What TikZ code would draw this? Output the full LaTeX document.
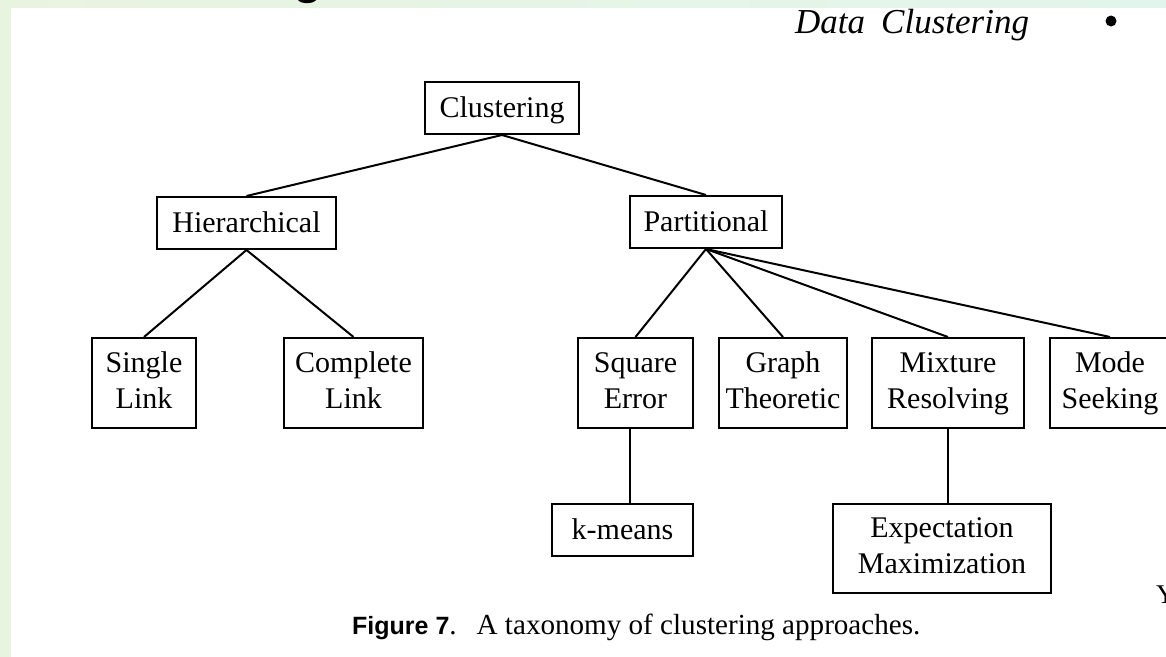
\documentclass[tikz,border=0pt]{standalone}
\usepackage{fontspec}
\setmainfont{Liberation Serif}
\newfontfamily\capsans{Liberation Sans}
\usetikzlibrary{positioning,calc}
\definecolor{slidegreen}{RGB}{233,244,224}
\definecolor{slidemint}{RGB}{226,245,236}
\tikzset{>=latex,
  basebox/.style={draw, line width=2pt, align=center, inner sep=0pt,
    font=\fontsize{30}{36}\selectfont},
  box/.style={basebox, minimum height=52pt, text height=24pt, text depth=5pt},
  tall/.style={basebox, minimum height=90pt},
  link/.style={line width=2pt}}

\begin{document}
\begin{tikzpicture}[x=1pt,y=-1pt]
    \useasboundingbox (0,0) rectangle (1166,656);
    \clip (0,0) rectangle (1166,656);
    \shade [left color=slidegreen,right color=slidemint] (0,0) rectangle (1166,656);
    \fill [white] (11,8) rectangle (1180,670);
    \node [font=\capsans\bfseries\fontsize{48}{48}\selectfont,anchor=base] (title) at (308,-7) {g};
    \node [font=\itshape\fontsize{35}{36}\selectfont,anchor=base west,inner sep=0pt] (head) at (795,33) {Data\hspace{16pt}Clustering};
    \node [circle,fill,inner sep=0pt,minimum size=11pt] (dot) at (1111,21) {};
    % tree
    \node [box,minimum width=154pt] (clust) at (502,108) {Clustering};
    \node [box,minimum width=179pt] (hier) at (246.5,223) {Hierarchical};
    \node [box,minimum width=152pt] (part) at (706,222) {Partitional};
    \node [tall,minimum width=104pt] (single) at (144,383) {\strut Single\\\strut Link};
    \node [tall,minimum width=139pt] (complete) at (353.5,383) {\strut Complete\\\strut Link};
    \node [tall,minimum width=115pt] (sqerr) at (635.5,383) {\strut Square\\\strut Error};
    \node [tall,minimum width=128pt] (graph) at (783,383) {\strut Graph\\\strut Theoretic};
    \node [tall,minimum width=152pt] (mixture) at (948,383) {\strut Mixture\\\strut Resolving};
    \node [tall,minimum width=120pt] (mode) at (1110,383) {\strut Mode\\\strut Seeking};
    \node [box,minimum width=141pt] (kmeans) at (622.5,530) {k-means};
    \node [tall,minimum width=218pt,minimum height=89pt] (em) at (942,548.5) {\strut Expectation\\\strut Maximization};
    \draw [link] (clust.south) -- (hier.north);
    \draw [link] (clust.south) -- (part.north);
    \foreach \n in {single,complete}
      \draw [link] (hier.south) -- (\n.north);
    \foreach \n in {sqerr,graph,mixture,mode}
      \draw [link] (part.south) -- (\n.north);
    \draw [link] ([xshift=-6pt]sqerr.south) -- ([xshift=-6pt]sqerr.south |- kmeans.north);
    \draw [link] (mixture.south) -- (mixture.south |- em.north);
    % caption
    \node [anchor=base west,inner sep=0pt,font=\fontsize{29.1}{30}\selectfont] (caption) at (352,634)
      {{\capsans\bfseries\fontsize{25}{30}\selectfont Figure 7}.\hspace{20pt}A taxonomy of clustering approaches.};
    \node [anchor=base west,inner sep=0pt,font=\fontsize{27}{30}\selectfont] (edge) at (1156,603) {Y};
\end{tikzpicture}
\end{document}
